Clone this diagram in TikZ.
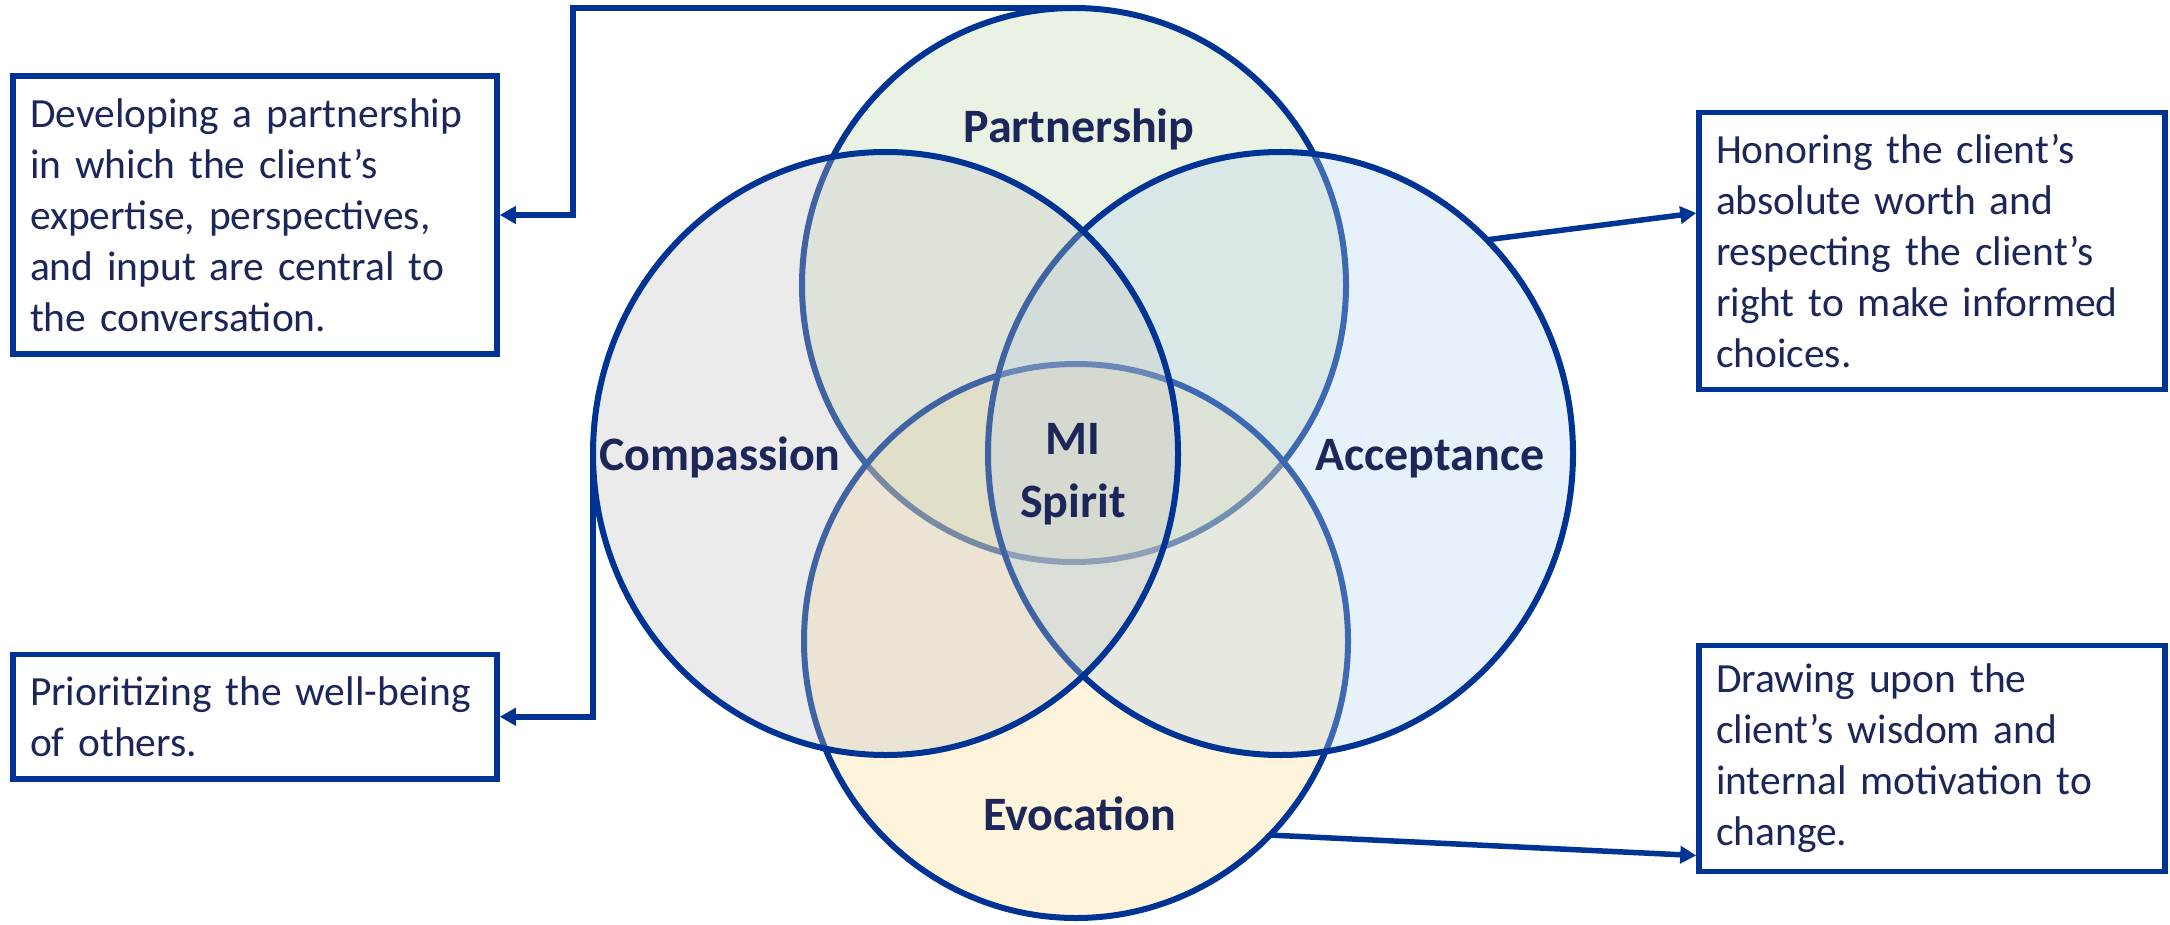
\documentclass[tikz,border=0pt]{standalone}
\usepackage{fontspec}
\setmainfont{Carlito}
\usetikzlibrary{shapes.geometric,arrows.meta}

\definecolor{lineblue}{RGB}{0,52,148}
\definecolor{inkblue}{RGB}{28,38,88}
\definecolor{fillP}{RGB}{191,216,170}
\definecolor{fillE}{RGB}{252,222,149}
\definecolor{fillA}{RGB}{185,213,237}
\definecolor{fillC}{RGB}{197,197,197}

\begin{document}
\begin{tikzpicture}[x=1pt,y=-1pt,
  venn/.style={ellipse, draw=lineblue, line width=6pt, fill opacity=0.33,
               draw opacity=1, inner sep=0pt, outer sep=0pt},
  tag/.style={font=\fontsize{48}{63}\selectfont\bfseries, text=inkblue, inner sep=0pt},
  note/.style={draw=lineblue, line width=5.5pt, fill=white, text=inkblue,
               align=left, font=\fontsize{41.5}{51}\selectfont,
               inner xsep=17pt, inner ysep=0pt},
  conn/.style={draw=lineblue, line width=5.5pt,
               -{Triangle[length=16pt,width=17pt]}}
]
\useasboundingbox (0,0) rectangle (2170,925);
\fill[white] (0,0) rectangle (2170,925);

% the four overlapping circles of the MI spirit
\node[venn, fill=fillP, minimum width=544pt, minimum height=554pt] (P) at (1074,285) {};
\node[venn, fill=fillE, minimum width=544pt, minimum height=554pt] (E) at (1076,641) {};
\node[venn, fill=fillA, minimum width=585pt, minimum height=603pt] (A) at (1280.5,453.5) {};
\node[venn, fill=fillC, minimum width=585pt, minimum height=603pt] (C) at (885.5,453.5) {};

% circle labels
\node[tag, anchor=base] (tP) at (1079,143) {Partnership};
\node[tag, anchor=base] (tC) at (720,470) {Compassion};
\node[tag, anchor=base] (tA) at (1430,470) {Acceptance};
\node[tag, anchor=base] (tE) at (1080,830) {Evocation};
\node[tag, align=center] (tM) at (1073,474) {MI\\Spirit};

% description boxes
\node[note, text width=450pt, minimum height=278pt] (b1) at (255,215)
  {Developing a partnership\\in which the client’s\\expertise, perspectives,\\and input are central to\\the conversation.};
\node[note, text width=432pt, minimum height=277pt] (b2) at (1932,251)
  {Honoring the client’s\\absolute worth and\\respecting the client’s\\right to make informed\\choices.};
\node[note, text width=450pt, minimum height=124.5pt] (b3) at (255,716.75)
  {Prioritizing the well-being\\of others.};
\node[note, text width=432pt, minimum height=226pt] (b4) at (1932,758.5)
  {Drawing upon the\\client’s wisdom and\\internal motivation to\\change.};

% connectors
\coordinate (k1) at (573,215);
\draw[conn] (P.north) -| (k1) -- (b1.east);
\draw[conn] (A.46) -- ([yshift=38pt]b2.west);
\draw[conn] (C.west) |- (b3.east);
\draw[conn] (E.-45) -- ([yshift=-97pt]b4.west);
\end{tikzpicture}
\end{document}
